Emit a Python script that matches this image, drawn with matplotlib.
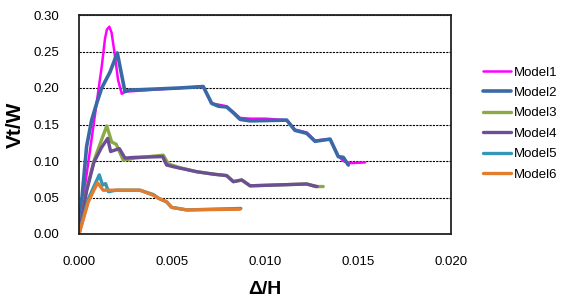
import matplotlib
matplotlib.use("Agg")
import matplotlib.pyplot as plt

plt.rcParams['font.family'] = ['Liberation Sans', 'DejaVu Sans']

labels = ["Model1", "Model2", "Model3", "Model4", "Model5", "Model6"]
colors = ["#FF00FF", "#3A6AA6", "#8BAA45", "#6B4E93", "#3397B8", "#E27C2E"]
widths = [1.8, 2.6, 2.4, 2.4, 2.4, 2.4]

m1_x = [0.0, 0.00032, 0.00077, 0.00122, 0.00140, 0.00150, 0.00163, 0.00175, 0.00190, 0.0021,
        0.0023, 0.00247,
        0.0054, 0.00668, 0.00713, 0.00794, 0.00866, 0.0092, 0.0100, 0.01117, 0.01161, 0.01224,
        0.01269, 0.0135, 0.01394, 0.01421, 0.01448, 0.01538]
m1_y = [0.0, 0.065, 0.147, 0.229, 0.268, 0.280, 0.284, 0.276, 0.250, 0.211,
        0.192, 0.195,
        0.200, 0.202, 0.179, 0.175, 0.159, 0.158, 0.158, 0.156, 0.143, 0.139,
        0.128, 0.130, 0.107, 0.100, 0.097, 0.098]

m2_x = [0.0, 0.00015, 0.00041, 0.00068, 0.00095, 0.00122, 0.00167, 0.00206, 0.00247, 0.0027,
        0.0054, 0.00668, 0.00713, 0.0075, 0.00794, 0.0083, 0.00866, 0.0092, 0.01117, 0.01161,
        0.01224, 0.01269, 0.0135, 0.01394, 0.01421, 0.01448]
m2_y = [0.0, 0.047, 0.120, 0.156, 0.179, 0.200, 0.222, 0.248, 0.195, 0.197,
        0.200, 0.202, 0.179, 0.175, 0.174, 0.166, 0.157, 0.155, 0.156, 0.142,
        0.138, 0.127, 0.130, 0.106, 0.105, 0.0945]

m3_x = [0.0, 0.0004, 0.0008, 0.0012, 0.00149, 0.00176, 0.0020, 0.00238, 0.0030, 0.00453,
        0.0048, 0.0054, 0.00633, 0.00722, 0.00794, 0.0083, 0.00875, 0.0092, 0.01224, 0.01269,
        0.01313]
m3_y = [0.0, 0.060, 0.100, 0.128, 0.148, 0.126, 0.123, 0.101, 0.104, 0.108,
        0.096, 0.091, 0.0853, 0.082, 0.080, 0.0717, 0.074, 0.066, 0.0685, 0.065,
        0.065]

m4_x = [0.0, 0.0004, 0.0008, 0.0012, 0.00154, 0.0017, 0.00217, 0.00247, 0.0030, 0.0045,
        0.00471, 0.0051, 0.00633, 0.00722, 0.00794, 0.0083, 0.00875, 0.0092, 0.01224, 0.0128]
m4_y = [0.0, 0.058, 0.098, 0.118, 0.131, 0.113, 0.117, 0.104, 0.105, 0.106,
        0.0945, 0.092, 0.0853, 0.082, 0.080, 0.0717, 0.074, 0.066, 0.0685, 0.065]

m5_x = [0.0, 0.0005, 0.0008, 0.00109, 0.00127, 0.00143, 0.00158, 0.0020, 0.00328, 0.0040,
        0.00427, 0.00471, 0.00498, 0.00579, 0.0087]
m5_y = [0.0, 0.048, 0.065, 0.081, 0.067, 0.069, 0.058, 0.060, 0.060, 0.054,
        0.049, 0.044, 0.0365, 0.033, 0.035]

m6_x = [0.0, 0.0005, 0.0008, 0.0010, 0.0013, 0.0020, 0.00328, 0.0040, 0.00427, 0.00471,
        0.00498, 0.00579, 0.00866]
m6_y = [0.0, 0.044, 0.060, 0.070, 0.060, 0.060, 0.060, 0.053, 0.049, 0.044,
        0.0365, 0.033, 0.034]

series_x = [m1_x, m2_x, m3_x, m4_x, m5_x, m6_x]
series_y = [m1_y, m2_y, m3_y, m4_y, m5_y, m6_y]

xticks = [0.000, 0.005, 0.010, 0.015, 0.020]
yticks = [0.00, 0.05, 0.10, 0.15, 0.20, 0.25, 0.30]

fig = plt.figure(figsize=(5.61, 3.04), dpi=100)
ax = fig.add_axes([79/561, 1-234/304, (451-79)/561, (234-15)/304])

for xs, ys, c, lw, lab in zip(series_x, series_y, colors, widths, labels):
    ax.plot(xs, ys, color=c, lw=lw, label=lab, solid_joinstyle='round', solid_capstyle='round')

ax.set_xlim(0, 0.020)
ax.set_ylim(0, 0.30)
ax.set_xticks(xticks)
ax.set_xticklabels([f"{v:.3f}" for v in xticks])
ax.set_yticks(yticks)
ax.set_yticklabels([f"{v:.2f}" for v in yticks])
ax.tick_params(length=0, labelsize=9.5)
ax.tick_params(axis='x', pad=16)
ax.tick_params(axis='y', pad=14)
ax.yaxis.grid(True, color='black', linestyle=(0, (2, 1)), linewidth=0.8)
ax.set_axisbelow(True)
for s in ax.spines.values():
    s.set_color('#222222')
    s.set_linewidth(1.3)

ax.set_xlabel("Δ/H", fontsize=14, fontweight='bold', labelpad=9)
ax.set_ylabel("Vt/W", fontsize=15, fontweight='bold', labelpad=6)

leg = fig.legend(loc='upper left', bbox_to_anchor=(478/561, 1-61/304), frameon=False,
                 fontsize=9.5, handlelength=2.1, labelspacing=0.62, handletextpad=0.25,
                 borderaxespad=0)

fig.savefig("out.png", dpi=100)
